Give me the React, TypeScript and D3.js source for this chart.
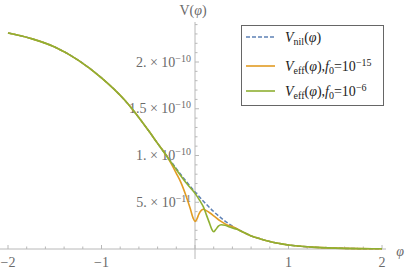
import React from "react";
import * as d3 from "d3";

// phi values and potentials (units of 1e-12)
const phiNil = [-2, -1.75, -1.5, -1.25, -1, -0.75, -0.5, -0.4, -0.3, -0.2, -0.1, 0, 0.1, 0.2, 0.3, 0.4, 0.5, 0.6, 0.7, 0.8, 1.0, 1.25, 1.5, 1.75, 2];
const vNil = [231, 225, 216, 202, 183, 159, 127, 113, 99.5, 86, 73, 61, 50, 40, 31.5, 24.5, 18.8, 14, 10.8, 8, 4.3, 2.0, 0.9, 0.4, 0.2];

const phiF15 = [-2, -1.75, -1.5, -1.25, -1, -0.75, -0.5, -0.4, -0.3, -0.2, -0.15, -0.1, -0.05, -0.02, 0, 0.02, 0.04, 0.07, 0.09, 0.12, 0.16, 0.2, 0.27, 0.35, 0.4, 0.5, 0.6, 0.7, 0.8, 1.0, 1.25, 1.5, 1.75, 2];
const vF15 = [231, 225, 216, 202, 183, 159, 127, 113, 99, 81, 71, 58, 43, 33, 29.5, 32, 37, 41.5, 42.5, 41, 38.5, 35.5, 30, 25.5, 24, 18.8, 14, 10.8, 8, 4.3, 2.0, 0.9, 0.4, 0.2];

const phiF6 = [-2, -1.75, -1.5, -1.25, -1, -0.75, -0.5, -0.4, -0.3, -0.2, -0.1, -0.05, 0, 0.05, 0.09, 0.12, 0.15, 0.18, 0.2, 0.22, 0.25, 0.28, 0.32, 0.37, 0.45, 0.5, 0.6, 0.7, 0.8, 1.0, 1.25, 1.5, 1.75, 2];
const vF6 = [231, 225, 216, 202, 183, 159, 127, 113, 99, 85, 71.5, 65.5, 59.5, 52, 45, 37, 29, 21, 18.5, 20.5, 24.5, 26, 25.5, 23.5, 21, 18.8, 14, 10.8, 8, 4.3, 2.0, 0.9, 0.4, 0.2];

const xTicks = [-2, -1, 1, 2];
const xTickLabels = ["\u22122", "\u22121", "1", "2"];
const yTicks = [5e-11, 1e-10, 1.5e-10, 2e-10];
const yTickMantissas = ["5.", "1.", "1.5", "2."];
const yTickExponents = ["\u221211", "\u221210", "\u221210", "\u221210"];

const UNIT = 1e-12;
const FONT = "'Liberation Serif', 'DejaVu Serif', serif";

export default function App() {
  const W = 405, H = 270;
  const x = d3.scaleLinear().domain([-2, 2]).range([8, 382]);
  const y = d3.scaleLinear().domain([0, 2e-10]).range([249, 62]);
  const line = d3
    .line<[number, number]>()
    .x((d) => x(d[0]))
    .y((d) => y(d[1] * UNIT))
    .curve(d3.curveMonotoneX);
  const mk = (p: number[], v: number[]) => p.map((pp, i) => [pp, v[i]] as [number, number]);

  const x0 = x(0);
  const y0 = y(0);
  const axisCol = "#b8b8b8";
  const labelCol = "#6a6a6a";

  const minorX = d3.range(-2, 2.0001, 0.2).map((v) => Math.round(v * 10) / 10);
  const minorY = d3.range(0, 2.41e-10, 1e-11);

  const blue = "#5e81b5";
  const orange = "#e19c24";
  const green = "#8fb032";
  const FS = 14;
  const SS = 10;

  return (
    <svg width={W} height={H} style={{ position: "absolute", left: 0, top: 0, background: "#fff" }}>
      {/* x axis */}
      <line x1={0} x2={386} y1={y0} y2={y0} stroke={axisCol} strokeWidth={1} />
      {minorX.map((v, i) => {
        const major = Math.abs(v - Math.round(v)) < 1e-6;
        return (
          <line key={"mx" + i} x1={x(v)} x2={x(v)} y1={y0} y2={y0 - (major ? 4 : 2.5)} stroke={axisCol} strokeWidth={1} />
        );
      })}
      {xTicks.map((t, i) => (
        <text key={"xt" + i} x={x(t)} y={267} textAnchor="middle" fontFamily={FONT} fontSize={FS} fill={labelCol}>
          {xTickLabels[i]}
        </text>
      ))}
      <text x={400} y={256} textAnchor="middle" fontFamily={FONT} fontSize={FS} fontStyle="italic" fill={labelCol}>
        φ
      </text>

      {/* y axis */}
      <line x1={x0} x2={x0} y1={22} y2={259} stroke={axisCol} strokeWidth={1} />
      {minorY.map((v, i) => {
        const major = i % 5 === 0;
        if (i === 0) return null;
        return (
          <line key={"my" + i} x1={x0} x2={x0 + (major ? 4 : 2.5)} y1={y(v)} y2={y(v)} stroke={axisCol} strokeWidth={1} />
        );
      })}
      {yTicks.map((t, i) => (
        <text key={"yt" + i} x={191} y={y(t) + 4.5} textAnchor="end" fontFamily={FONT} fontSize={FS} fill={labelCol}>
          {yTickMantissas[i]}
          <tspan> × 10</tspan>
          <tspan dy={-5} fontSize={SS}>{yTickExponents[i]}</tspan>
        </text>
      ))}
      <text x={193} y={15} textAnchor="middle" fontFamily={FONT} fontSize={FS} fill={labelCol}>
        V(<tspan fontStyle="italic">φ</tspan>)
      </text>

      {/* curves */}
      <path d={line(mk(phiNil, vNil)) || ""} fill="none" stroke={blue} strokeWidth={1.5} strokeDasharray="4,2" />
      <path d={line(mk(phiF15, vF15)) || ""} fill="none" stroke={orange} strokeWidth={1.6} />
      <path d={line(mk(phiF6, vF6)) || ""} fill="none" stroke={green} strokeWidth={1.6} />

      {/* legend */}
      <rect x={241.5} y={25.5} width={142} height={80} fill="#fff" stroke="#666" strokeWidth={1} />
      <line x1={246} x2={275} y1={37} y2={37} stroke={blue} strokeWidth={1.5} strokeDasharray="4,2" />
      <line x1={246} x2={275} y1={66} y2={66} stroke={orange} strokeWidth={1.6} />
      <line x1={246} x2={275} y1={91} y2={91} stroke={green} strokeWidth={1.6} />
      <text x={285} y={41.5} fontFamily={FONT} fontSize={FS} fill="#222">
        <tspan fontStyle="italic">V</tspan>
        <tspan dy={3} fontSize={SS}>nil</tspan>
        <tspan dy={-3}>(</tspan>
        <tspan fontStyle="italic">φ</tspan>
        <tspan>)</tspan>
      </text>
      <text x={285} y={70.5} fontFamily={FONT} fontSize={FS} fill="#222">
        <tspan fontStyle="italic">V</tspan>
        <tspan dy={3} fontSize={SS}>eff</tspan>
        <tspan dy={-3}>(</tspan>
        <tspan fontStyle="italic">φ</tspan>
        <tspan>),</tspan>
        <tspan fontStyle="italic">f</tspan>
        <tspan dy={3} fontSize={SS}>0</tspan>
        <tspan dy={-3}>=10</tspan>
        <tspan dy={-5} fontSize={SS}>−15</tspan>
      </text>
      <text x={285} y={95.5} fontFamily={FONT} fontSize={FS} fill="#222">
        <tspan fontStyle="italic">V</tspan>
        <tspan dy={3} fontSize={SS}>eff</tspan>
        <tspan dy={-3}>(</tspan>
        <tspan fontStyle="italic">φ</tspan>
        <tspan>),</tspan>
        <tspan fontStyle="italic">f</tspan>
        <tspan dy={3} fontSize={SS}>0</tspan>
        <tspan dy={-3}>=10</tspan>
        <tspan dy={-5} fontSize={SS}>−6</tspan>
      </text>
    </svg>
  );
}
